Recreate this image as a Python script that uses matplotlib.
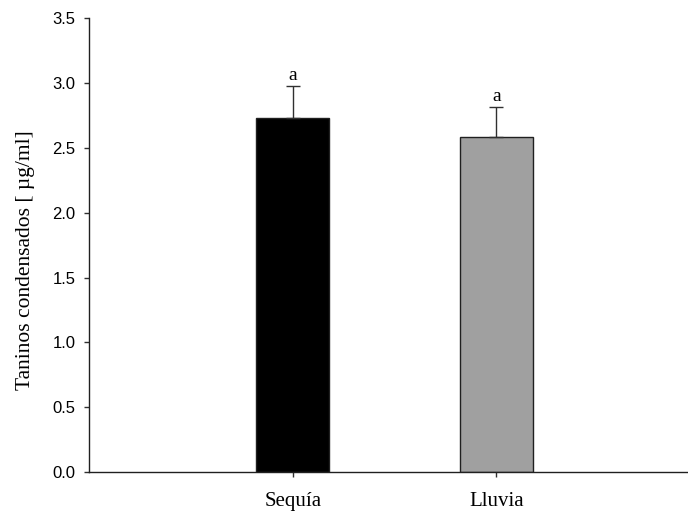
import numpy as np
import matplotlib
matplotlib.use("Agg")
import matplotlib.pyplot as plt

# data
grupos = ["Sequía", "Lluvia"]
medias = [2.735, 2.585]
errores = [0.245, 0.235]
letras = ["a", "a"]
colores = ["#000000", "#a0a0a0"]

serif = ["Liberation Serif", "DejaVu Serif"]
sans = ["Liberation Sans", "DejaVu Sans"]

fig = plt.figure(figsize=(6.88, 5.15), dpi=100)
ax = fig.add_axes([0.1294, 0.0835, 0.8706, 0.8806])

x = np.arange(1, len(grupos) + 1)
ax.bar(x, medias, width=0.358, color=colores, edgecolor="#202020", linewidth=1.0, zorder=2)
ax.errorbar(x, medias, yerr=[np.zeros(len(errores)), errores], fmt="none",
            ecolor="#303030", elinewidth=1.0, capsize=4.7, capthick=1.0, zorder=3)

for xi, m, e, l in zip(x, medias, errores, letras):
    ax.annotate(l, (xi, m + e), xytext=(0, 1), textcoords="offset points",
                ha="center", va="bottom", fontsize=14, family=serif)

ax.set_xlim(0.0, 2.94)
ax.set_ylim(0, 3.5)
ax.set_yticks(np.arange(0, 3.51, 0.5))
ax.set_yticklabels(["%.1f" % v for v in np.arange(0, 3.51, 0.5)], family=sans, fontsize=12)
ax.set_xticks(x)
ax.set_xticklabels(grupos, family=serif, fontsize=15)
ax.tick_params(axis="x", length=3.6, width=1, pad=10.5, color="#303030")
ax.tick_params(axis="y", length=3.6, width=1, pad=6, color="#303030")

ax.spines["top"].set_visible(False)
ax.spines["right"].set_visible(False)
for s in ["left", "bottom"]:
    ax.spines[s].set_linewidth(1.0)
    ax.spines[s].set_color("#202020")

ax.set_ylabel("Taninos condensados [ µg/ml]", family=serif, fontsize=15.5)
ax.yaxis.set_label_coords(-0.09, 0.467)

fig.savefig("out.png", dpi=100)
